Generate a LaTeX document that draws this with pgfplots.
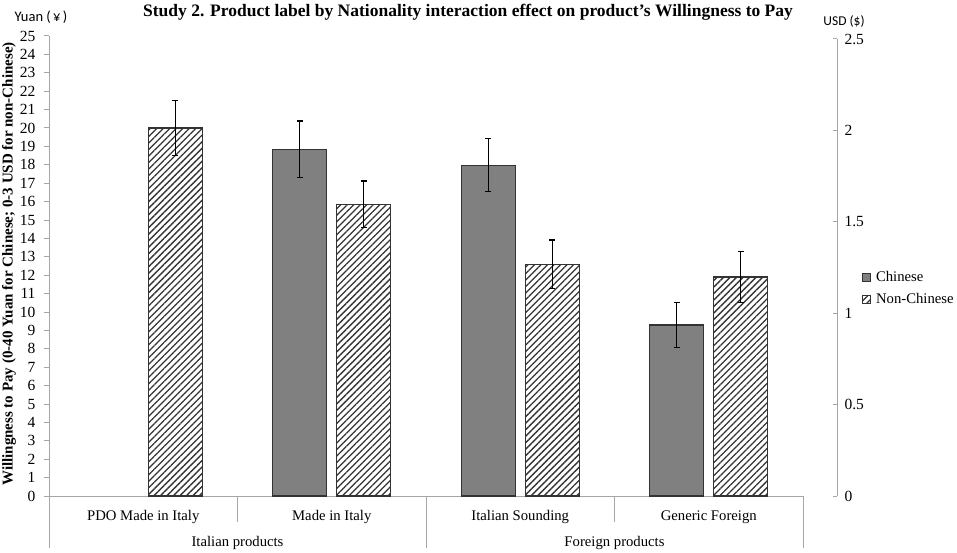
\documentclass[border=0pt]{standalone}
\usepackage{fontspec}
\setmainfont{Liberation Serif}
\newfontfamily\calfont{Carlito}
\usepackage{pgfplots}
\pgfplotsset{compat=1.18}
\usetikzlibrary{patterns.meta}
\definecolor{axgray}{HTML}{A6A6A6}
\definecolor{bargray}{HTML}{808080}
\definecolor{edge}{HTML}{333333}
\newcommand{\lab}{\fontsize{14.7}{16}\selectfont}
\newcommand{\tlab}{\fontsize{15.5}{17}\selectfont}
\begin{document}
\begin{tikzpicture}[x=1pt,y=1pt]
\useasboundingbox (0,0) rectangle (957,552);
\begin{axis}[
  at={(49pt,56pt)}, anchor=south west, scale only axis,
  width=754pt, height=460pt,
  xmin=-0.5, xmax=3.5, ymin=0, ymax=25,
  axis x line*=bottom, axis y line*=left,
  x axis line style={axgray, line width=1pt, -},
  y axis line style={axgray, line width=1pt, -},
  xtick={0,1,2,3},
  xticklabels={PDO Made in Italy, Made in Italy, Italian Sounding, Generic Foreign},
  x tick style={draw=none},
  xticklabel style={font=\lab, anchor=base, yshift=-19pt},
  ytick={0,1,...,25},
  tick align=outside,
  major tick length=5pt,
  y tick style={axgray, line width=1pt},
  yticklabel style={font=\tlab, xshift=-5pt},
  /pgf/number format/assume math mode=true,
  ybar, bar width=54pt,
  clip=false,
  error bars/y dir=both, error bars/y explicit,
  error bars/error bar style={black, line width=1.2pt},
  error bars/error mark options={black, line width=1.2pt, mark size=3pt, rotate=90},
  legend style={at={(rel axis cs:1.077,0.4516)}, anchor=west, draw=none, fill=none,
    font=\lab, row sep=7pt, column sep=3pt, inner sep=1pt},
  legend cell align=left,
  legend image code/.code={\draw[#1, line width=0.8pt] (0pt,-4pt) rectangle (8pt,4pt);},
]
\addplot[fill=bargray, draw=edge, line width=1.2pt, bar shift=-32pt]
  coordinates {(1,18.84) +- (0,1.54) (2,17.97) +- (0,1.44) (3,9.29) +- (0,1.24)};
\addlegendentry{Chinese}
\addplot[pattern={Lines[angle=45,distance=4.6pt,line width=1.3pt]}, pattern color=black!80,
  draw=edge, line width=1.2pt, bar shift=32pt]
  coordinates {(0,20.0) +- (0,1.5) (1,15.85) +- (0,1.27) (2,12.6) +- (0,1.31) (3,11.9) +- (0,1.4)};
\addlegendentry{Non-Chinese}
\draw[axgray, line width=1pt] (axis cs:-0.5,0) -- ([yshift=-52pt]axis cs:-0.5,0);
\draw[axgray, line width=1pt] (axis cs:1.5,0) -- ([yshift=-52pt]axis cs:1.5,0);
\draw[axgray, line width=1pt] (axis cs:3.5,0) -- ([yshift=-52pt]axis cs:3.5,0);
\draw[axgray, line width=1pt] (axis cs:0.5,0) -- ([yshift=-26pt]axis cs:0.5,0);
\draw[axgray, line width=1pt] (axis cs:2.5,0) -- ([yshift=-26pt]axis cs:2.5,0);
\node[font=\lab, anchor=base] at ([yshift=-50pt]axis cs:0.5,0) {Italian products};
\node[font=\lab, anchor=base] at ([yshift=-50pt]axis cs:2.5,0) {Foreign products};
\end{axis}
\begin{axis}[
  at={(49pt,56pt)}, anchor=south west, scale only axis,
  width=788pt, height=457pt,
  xmin=0, xmax=1, ymin=0, ymax=2.5,
  axis x line=none, axis y line*=right,
  y axis line style={axgray, line width=1pt, -},
  ytick={0,0.5,1,1.5,2,2.5},
  tick align=inside, major tick length=4pt,
  y tick style={axgray, line width=1pt},
  yticklabel style={font=\tlab, xshift=4pt},
  /pgf/number format/assume math mode=true,
]
\end{axis}
\node[font=\bfseries\fontsize{17.5}{19}\selectfont] at (468,540)
  {Study 2. Product label by Nationality interaction effect on product's Willingness to Pay};
\node[rotate=90, font=\bfseries\fontsize{15}{17}\selectfont] at (9,288)
  {Willingness to Pay (0-40 Yuan for Chinese; 0-3 USD for non-Chinese)};
\node[font=\calfont\fontsize{14.5}{16}\selectfont] at (41,535) {Yuan (\,¥\,)};
\node[font=\calfont\fontsize{13.5}{15}\selectfont] at (844,530) {USD (\$)};
\end{tikzpicture}
\end{document}
